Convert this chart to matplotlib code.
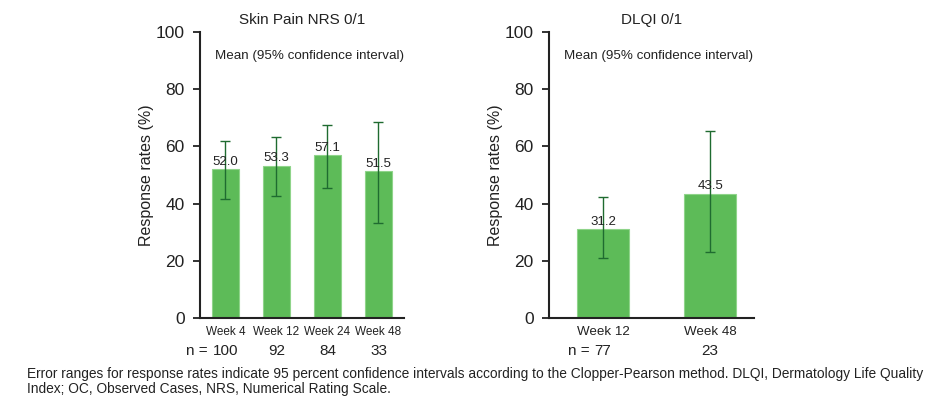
import matplotlib
matplotlib.use("Agg")
import matplotlib.pyplot as plt
from matplotlib.transforms import blended_transform_factory

plt.rcParams['font.family'] = ['Liberation Sans', 'DejaVu Sans']

# Skin Pain NRS 0/1
nrs_weeks = ['Week 4', 'Week 12', 'Week 24', 'Week 48']
nrs_n = [100, 92, 84, 33]
nrs_rate = [52.0, 53.3, 57.1, 51.5]
nrs_lo = [41.6, 42.5, 45.5, 33.2]
nrs_hi = [61.9, 63.4, 67.5, 68.6]

# DLQI 0/1
dlqi_weeks = ['Week 12', 'Week 48']
dlqi_n = [77, 23]
dlqi_rate = [31.2, 43.5]
dlqi_lo = [20.9, 23.0]
dlqi_hi = [42.4, 65.5]

BAR = '#5dbb58'
ERR = '#1f6b30'
TXT = '#222222'

fig = plt.figure(figsize=(9.28, 3.96), dpi=100)
ax1 = fig.add_axes([0.2155, 0.197, 0.2198, 0.7222])
ax2 = fig.add_axes([0.5916, 0.197, 0.2209, 0.7222])


def panel(ax, title, weeks, n, rate, lo, hi, width, xlim, wk_size):
    x = list(range(len(weeks)))
    yerr = [[r - l for r, l in zip(rate, lo)], [h - r for r, h in zip(rate, hi)]]
    ax.bar(x, rate, width=width, color=BAR, edgecolor='#8fd48a', linewidth=0.8, zorder=2)
    ax.errorbar(x, rate, yerr=yerr, fmt='none', ecolor=ERR, elinewidth=1.0,
                capsize=3.5, capthick=1.0, zorder=3)
    for xi, r in zip(x, rate):
        ax.text(xi, r + 0.4, f'{r:.1f}', ha='center', va='bottom', fontsize=9.5,
                color=TXT, zorder=4)
    ax.set_xlim(*xlim)
    ax.set_ylim(0, 100)
    ax.set_yticks([0, 20, 40, 60, 80, 100])
    ax.tick_params(axis='y', labelsize=12.5, length=5, width=1.3, pad=6, colors=TXT)
    ax.set_xticks(x)
    ax.set_xticklabels(weeks, fontsize=wk_size, color=TXT)
    ax.tick_params(axis='x', length=0, pad=6)
    for s in ['top', 'right']:
        ax.spines[s].set_visible(False)
    for s in ['left', 'bottom']:
        ax.spines[s].set_linewidth(1.5)
        ax.spines[s].set_color(TXT)
    ax.set_ylabel('Response rates (%)', fontsize=11.5, color=TXT, labelpad=1)
    ax.set_title(title, fontsize=11, color=TXT, pad=6)
    ax.text(0.535, 0.915, 'Mean (95% confidence interval)', transform=ax.transAxes,
            ha='center', va='center', fontsize=9.6, color=TXT)

    # sample sizes under the week labels, "n =" only in front of the first
    tr = blended_transform_factory(ax.transData, ax.transAxes)
    for i, (xi, v) in enumerate(zip(x, n)):
        ax.text(xi, -0.115, str(v), transform=tr, ha='center', va='center',
                fontsize=11, color=TXT)
        if i == 0:
            half = len(str(v)) * 0.556 * 11 / 2
            ax.annotate('n =', xy=(xi, -0.115), xycoords=tr,
                        xytext=(-half - 3.5, 0), textcoords='offset points',
                        ha='right', va='center', fontsize=11, color=TXT)


panel(ax1, 'Skin Pain NRS 0/1', nrs_weeks, nrs_n, nrs_rate, nrs_lo, nrs_hi,
      0.53, (-0.5, 3.5), 8.5)
panel(ax2, 'DLQI 0/1', dlqi_weeks, dlqi_n, dlqi_rate, dlqi_lo, dlqi_hi,
      0.49, (-0.505, 1.41), 9.6)

fig.text(0.029, 0.037, 'Error ranges for response rates indicate 95 percent confidence intervals '
         'according to the Clopper-Pearson method. DLQI, Dermatology Life Quality\n'
         'Index; OC, Observed Cases, NRS, Numerical Rating Scale.',
         ha='left', va='center', fontsize=9.95, color=TXT, linespacing=1.05)

fig.savefig('out.png', dpi=100)
